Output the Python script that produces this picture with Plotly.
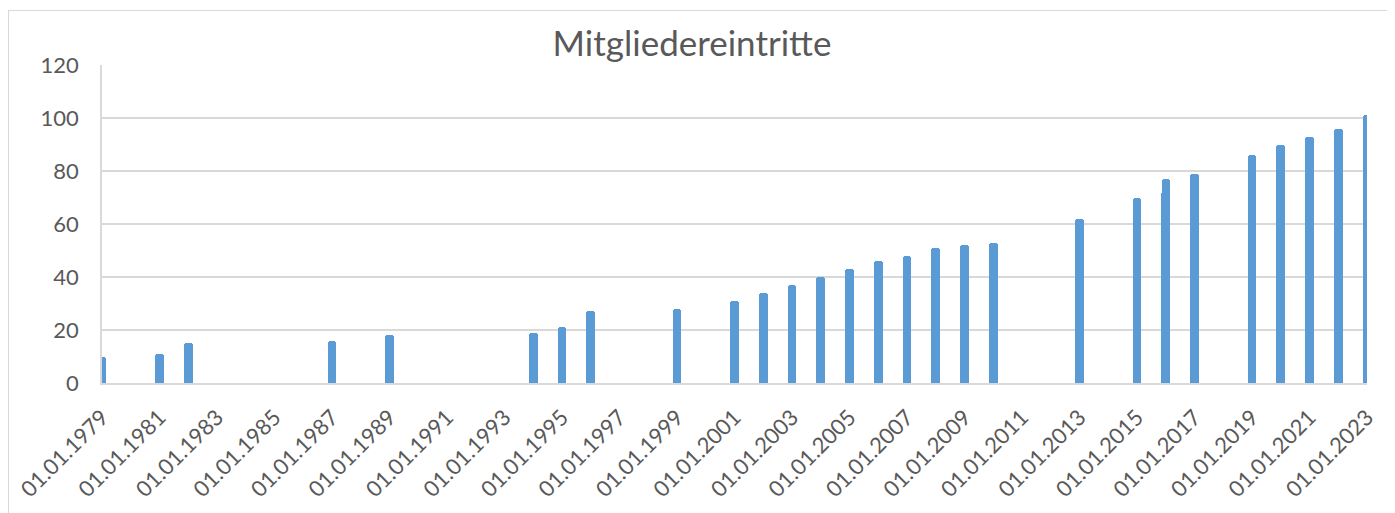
import plotly.graph_objects as go

# Data: entry dates and cumulative member count
entry_dates = [
    "1979-01-01", "1981-01-01", "1982-01-01", "1987-01-01", "1989-01-01",
    "1994-01-01", "1995-01-01", "1996-01-01", "1999-01-01", "2001-01-01",
    "2002-01-01", "2003-01-01", "2004-01-01", "2005-01-01", "2006-01-01",
    "2007-01-01", "2008-01-01", "2009-01-01", "2010-01-01", "2013-01-01",
    "2015-01-01", "2015-12-25", "2016-01-04", "2017-01-01", "2019-01-01",
    "2020-01-01", "2021-01-01", "2022-01-01", "2023-01-01",
]
member_counts = [
    10, 11, 15, 16, 18,
    19, 21, 27, 28, 31,
    34, 37, 40, 43, 46,
    48, 51, 52, 53, 62,
    70, 72, 77, 79, 86,
    90, 93, 96, 101,
]
tick_years = list(range(1979, 2024, 2))
tick_dates = [f"{y}-01-01" for y in tick_years]
tick_labels = [f"01.01.{y}" for y in tick_years]
y_ticks = [0, 20, 40, 60, 80, 100, 120]
title_text = "Mitgliedereintritte"

# page has an 8px body margin; figure placed at (8, 8)
OFF = 8
W, H = 1395 - OFF, 513 - OFF
PL, PR, PT, PB = 102, 1367, 65, 383   # plot area in page pixels
L = PL - OFF
R = W - (PR - OFF)
T = PT - OFF
B = H - (PB - OFF)
plot_w = W - L - R
plot_h = H - T - B

DAY_MS = 86400000
bar_width_ms = 112 * DAY_MS

FONT = "Lato"
TXT = "#595959"
GRID = "#d9d9d9"

fig = go.Figure(
    go.Bar(
        x=entry_dates,
        y=member_counts,
        width=bar_width_ms,
        marker=dict(color="#5B9BD5", line=dict(width=0), cornerradius=3),
        showlegend=False,
    )
)

def px_to_paper_x(px):
    return (px - OFF - L) / plot_w

def px_to_paper_y(py):
    return (H - B - (py - OFF)) / plot_h

fig.update_layout(
    width=W,
    height=H,
    margin=dict(l=L, r=R, t=T, b=B, autoexpand=False),
    paper_bgcolor="white",
    plot_bgcolor="white",
    font=dict(family=FONT, color=TXT, size=22),
    title=dict(
        text=title_text,
        x=(692 - OFF) / W,
        xref="container",
        xanchor="center",
        y=1 - (44 - OFF) / H,
        yref="container",
        yanchor="middle",
        font=dict(family=FONT, size=35, color=TXT),
    ),
    bargap=0,
    shapes=[
        dict(
            type="rect",
            xref="paper",
            yref="paper",
            x0=px_to_paper_x(8.5),
            x1=px_to_paper_x(1400),
            y0=px_to_paper_y(520),
            y1=px_to_paper_y(10.5),
            line=dict(color=GRID, width=1.2),
            fillcolor="rgba(0,0,0,0)",
            layer="below",
        )
    ],
)

fig.update_xaxes(
    type="date",
    range=["1979-01-01", "2023-01-01"],
    tickmode="array",
    tickvals=tick_dates,
    ticktext=tick_labels,
    tickangle=-45,
    tickfont=dict(family=FONT, size=22, color=TXT),
    showgrid=False,
    showline=True,
    linecolor=GRID,
    linewidth=1.5,
    ticks="",
    ticklabelstandoff=11,
    zeroline=False,
    automargin=False,
)

fig.update_yaxes(
    range=[0, 120],
    tickmode="array",
    tickvals=y_ticks,
    tickfont=dict(family=FONT, size=22, color=TXT),
    showgrid=True,
    gridcolor=GRID,
    gridwidth=1.5,
    showline=True,
    linecolor=GRID,
    linewidth=1.5,
    zeroline=False,
    ticks="",
    ticklabelstandoff=17,
    automargin=False,
)

fig.write_html("out.html")
